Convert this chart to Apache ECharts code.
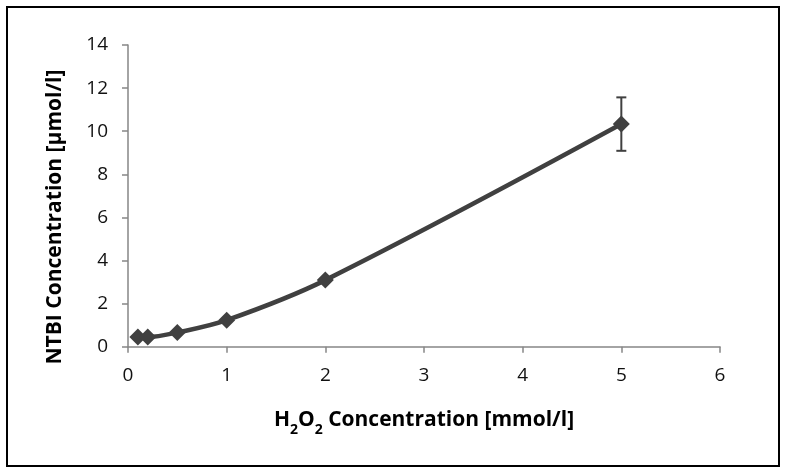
<!DOCTYPE html>
<html>
<head>
<meta charset="utf-8">
<script src="https://cdn.jsdelivr.net/npm/echarts@6/dist/echarts.min.js"></script>
<style>
html,body{margin:0;padding:0;background:#fff;}
#c{width:787px;height:474px;}
</style>
</head>
<body>
<div id="c"></div>
<script>
// Data
var xValues = [0.1, 0.2, 0.5, 1, 2, 5];
var yValues = [0.45, 0.45, 0.66, 1.23, 3.09, 10.33];
var yErrors = [0, 0, 0, 0, 0, 1.24];
var xTicks = [0, 1, 2, 3, 4, 5, 6];
var yTicks = [0, 2, 4, 6, 8, 10, 12, 14];

var FONT = 'Open Sans';
var chart = echarts.init(document.getElementById('c'), null, {renderer: 'canvas'});

var lineData = xValues.map(function (x, i) { return [x, yValues[i]]; });
var errData = xValues.map(function (x, i) { return [x, yValues[i] - yErrors[i], yValues[i] + yErrors[i]]; })
  .filter(function (d, i) { return yErrors[i] > 0; });

chart.setOption({
  animation: false,
  backgroundColor: '#fff',
  graphic: [{
    type: 'rect',
    shape: {x: 7, y: 7, width: 772, height: 459},
    style: {fill: 'none', stroke: '#000', lineWidth: 2},
    z: 100
  }, {
    type: 'text',
    x: 55, y: 217,
    rotation: Math.PI / 2,
    style: {
      text: 'NTBI Concentration [\u00b5mol/l]',
      fontFamily: FONT, fontWeight: 'bold', fontSize: 21, fill: '#000',
      align: 'center', verticalAlign: 'middle'
    }
  }],
  grid: {left: 128, right: 67, top: 45, bottom: 127.3, containLabel: false},
  xAxis: {
    type: 'value',
    min: 0, max: 6, interval: 1,
    axisLine: {show: true, lineStyle: {color: '#868686', width: 1.5}},
    axisTick: {show: true, length: 6, lineStyle: {color: '#868686', width: 1.5}},
    splitLine: {show: false},
    axisLabel: {
      margin: 19, color: '#111', fontFamily: FONT, fontSize: 19,
      formatter: function (v) { return xTicks.indexOf(v) >= 0 ? String(v) : ''; }
    },
    name: '{m|H}{s|2}{m|O}{s|2}{m| Concentration [mmol/l]}',
    nameLocation: 'middle',
    nameGap: 58,
    nameTextStyle: {
      rich: {
        m: {fontFamily: FONT, fontWeight: 'bold', fontSize: 21, color: '#000', lineHeight: 26, verticalAlign: 'bottom'},
        s: {fontFamily: FONT, fontWeight: 'bold', fontSize: 14, color: '#000', lineHeight: 26, verticalAlign: 'bottom', padding: [0, 0, -6, 0]}
      }
    }
  },
  yAxis: {
    type: 'value',
    min: 0, max: 14, interval: 2,
    axisLine: {show: true, lineStyle: {color: '#868686', width: 1.5}},
    axisTick: {show: true, length: 6, lineStyle: {color: '#868686', width: 1.5}},
    splitLine: {show: false},
    axisLabel: {
      margin: 20, color: '#111', fontFamily: FONT, fontSize: 19,
      formatter: function (v) { return yTicks.indexOf(v) >= 0 ? String(v) : ''; }
    }
  },
  series: [{
    type: 'line',
    data: lineData,
    smooth: 0.35,
    symbol: 'diamond',
    symbolSize: 17,
    lineStyle: {color: '#404040', width: 4.5},
    itemStyle: {color: '#404040'},
    z: 3
  }, {
    type: 'custom',
    data: errData,
    z: 4,
    renderItem: function (params, api) {
      var x = api.value(0);
      var lo = api.coord([x, api.value(1)]);
      var hi = api.coord([x, api.value(2)]);
      var hw = 5;
      var st = {stroke: '#404040', lineWidth: 2, fill: 'none'};
      return {
        type: 'group',
        children: [
          {type: 'line', shape: {x1: lo[0], y1: lo[1], x2: hi[0], y2: hi[1]}, style: st},
          {type: 'line', shape: {x1: lo[0] - hw, y1: lo[1], x2: lo[0] + hw, y2: lo[1]}, style: st},
          {type: 'line', shape: {x1: hi[0] - hw, y1: hi[1], x2: hi[0] + hw, y2: hi[1]}, style: st}
        ]
      };
    }
  }]
});
</script>
</body>
</html>
